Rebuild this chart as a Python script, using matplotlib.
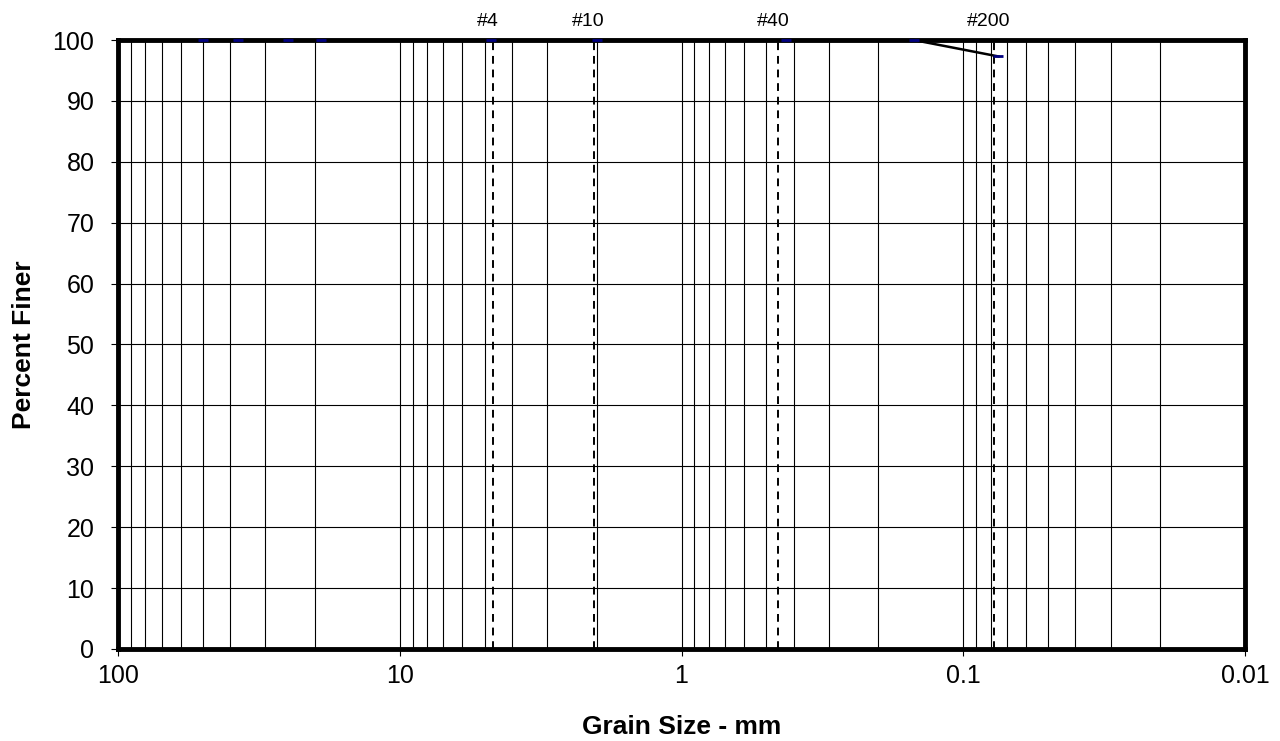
import numpy as np
import matplotlib.pyplot as plt
from matplotlib.ticker import LogLocator, FixedLocator, FixedFormatter

plt.rcParams['font.family'] = ['Liberation Sans', 'DejaVu Sans']

# gradation data (sieve opening in mm, percent finer)
grain_size = [50.0, 37.5, 25.0, 19.0, 4.75, 2.0, 0.425, 0.15, 0.075]
pct_finer = [100, 100, 100, 100, 100, 100, 100, 100, 97.3]

# reference sieve lines, x (they sit a bit off the data points)
sieve_names = ['#4', '#10', '#40', '#200']
sieve_lines = [4.67, 2.05, 0.455, 0.078]

x_ticks = [100, 10, 1, 0.1, 0.01]
x_labels = ['100', '10', '1', '0.1', '0.01']

fig = plt.figure(figsize=(12.8, 7.41), dpi=100)
ax = fig.add_axes([0.0922, 0.1242, 0.8805, 0.8218])

ax.set_xscale('log')
ax.set_xlim(100, 0.01)
ax.set_ylim(0, 100)

# grid on every log subdivision
ax.xaxis.set_major_locator(FixedLocator(x_ticks))
ax.xaxis.set_major_formatter(FixedFormatter(x_labels))
ax.xaxis.set_minor_locator(LogLocator(base=10, subs=np.arange(2, 10)))
ax.set_yticks(np.arange(0, 101, 10))
ax.grid(True, which='both', axis='x', color='black', lw=0.8)
ax.grid(True, which='major', axis='y', color='black', lw=0.8)
ax.set_axisbelow(True)

for name, size in zip(sieve_names, sieve_lines):
    ax.plot([size, size], [0, 100], color='black', lw=1.4, ls=(0, (4, 3)), zorder=3)
    ax.annotate(name, xy=(size, 100), xytext=(-5, 19), textcoords='offset pixels',
                ha='center', va='center', fontsize=14, annotation_clip=False)

ax.plot(grain_size, pct_finer, color='black', lw=1.8, zorder=4, clip_on=False)
ax.plot(grain_size, pct_finer, ls='none', marker='_', color='#000080', ms=7, mew=2,
        zorder=5, clip_on=False)

for s in ax.spines.values():
    s.set_linewidth(3.5)
    s.set_zorder(4.5)

ax.tick_params(axis='both', which='major', direction='out', length=5, width=0.8,
               labelsize=18)
ax.tick_params(axis='x', which='major', pad=6)
ax.tick_params(axis='y', which='major', pad=12)
ax.tick_params(axis='x', which='minor', length=0)

ax.set_xlabel('Grain Size - mm', fontsize=19, fontweight='bold')
ax.set_ylabel('Percent Finer', fontsize=19, fontweight='bold')
ax.xaxis.set_label_coords(0.5, -0.108)
ax.yaxis.set_label_coords(-0.073, 0.5)

fig.savefig('out.png', dpi=100)
